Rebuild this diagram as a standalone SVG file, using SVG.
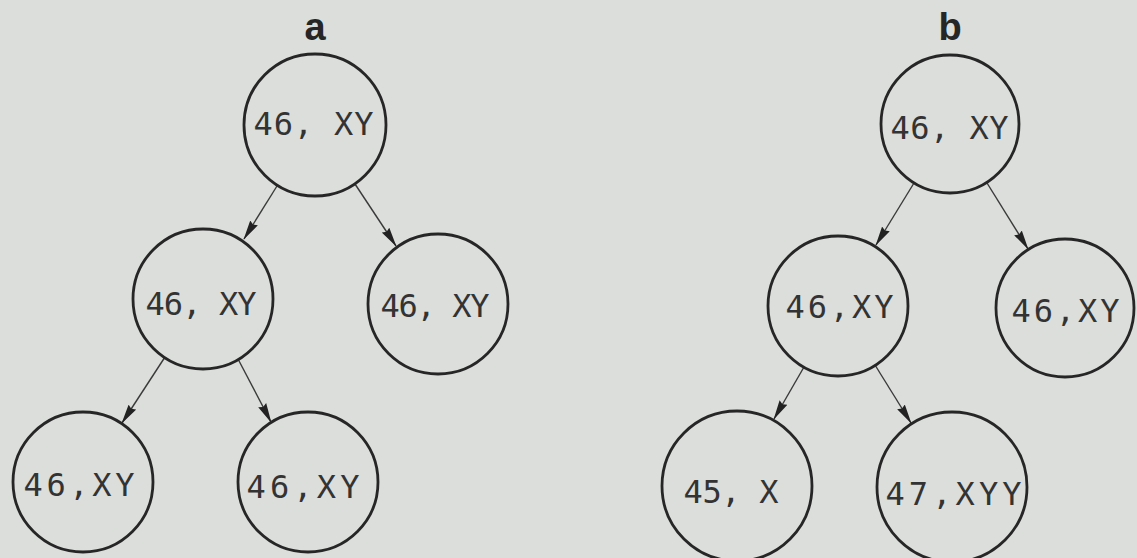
<svg xmlns="http://www.w3.org/2000/svg" width="1137" height="558" viewBox="0 0 1137 558">
  <defs>
    <marker id="arrowhead" markerUnits="userSpaceOnUse" viewBox="0 0 20 10" refX="19" refY="5" markerWidth="20" markerHeight="10" orient="auto">
      <path d="M0,0.5 L20,5 L0,9.5 L2,5 Z" fill="#222"/>
    </marker>
    <style>
      .cell { fill: none; stroke: #262626; stroke-width: 2.8; }
      .karyo { font-family: "DejaVu Sans Mono", "Liberation Mono", monospace; font-size: 32px; fill: #333; text-anchor: middle; }
      .panel { font-family: "Liberation Sans", Arial, sans-serif; font-size: 38px; font-weight: bold; fill: #262626; text-anchor: middle; }
      .edge { stroke: #3a3a3a; stroke-width: 1.4; fill: none; marker-end: url(#arrowhead); }
    </style>
  </defs>

  <rect x="0" y="0" width="1137" height="558" fill="#dbdedb"/>

  <!-- panel letters -->
  <text class="panel" x="315" y="40">a</text>
  <text class="panel" x="950" y="40">b</text>

  <!-- lineage connectors -->
  <g id="connectors">
    <line class="edge" x1="277" y1="186" x2="244" y2="239"/>
    <line class="edge" x1="355" y1="184" x2="396" y2="246"/>
    <line class="edge" x1="165" y1="357" x2="122" y2="423"/>
    <line class="edge" x1="238" y1="359" x2="271" y2="422"/>

    <line class="edge" x1="914" y1="183" x2="876" y2="245"/>
    <line class="edge" x1="987" y1="183" x2="1028" y2="249"/>
    <line class="edge" x1="804" y1="367" x2="774" y2="419"/>
    <line class="edge" x1="875" y1="365" x2="911" y2="423"/>
  </g>

  <!-- series a -->
  <g id="a-root">
    <circle class="cell" cx="315" cy="125" r="71"/>
    <text class="karyo" x="313.5" y="135" textLength="120" lengthAdjust="spacing">46, XY</text>
  </g>
  <g id="a-mid-left">
    <circle class="cell" cx="203" cy="299" r="70"/>
    <text class="karyo" x="201" y="315" textLength="111" lengthAdjust="spacing">46, XY</text>
  </g>
  <g id="a-mid-right">
    <circle class="cell" cx="438" cy="304" r="70"/>
    <text class="karyo" x="435" y="317" textLength="109" lengthAdjust="spacing">46, XY</text>
  </g>
  <g id="a-low-left">
    <circle class="cell" cx="83" cy="482" r="70"/>
    <text class="karyo" x="79" y="496" textLength="111" lengthAdjust="spacing">46,XY</text>
  </g>
  <g id="a-low-right">
    <circle class="cell" cx="308" cy="482" r="70"/>
    <text class="karyo" x="303" y="498" textLength="113" lengthAdjust="spacing">46,XY</text>
  </g>

  <!-- series b -->
  <g id="b-root">
    <circle class="cell" cx="950" cy="124" r="69"/>
    <text class="karyo" x="949.5" y="139" textLength="118" lengthAdjust="spacing">46, XY</text>
  </g>
  <g id="b-mid-left">
    <circle class="cell" cx="838" cy="306" r="70"/>
    <text class="karyo" x="839.5" y="318" textLength="108" lengthAdjust="spacing">46,XY</text>
  </g>
  <g id="b-mid-right">
    <circle class="cell" cx="1065" cy="308" r="69"/>
    <text class="karyo" x="1065.5" y="322" textLength="108" lengthAdjust="spacing">46,XY</text>
  </g>
  <g id="b-low-left">
    <circle class="cell" cx="737" cy="486" r="75"/>
    <text class="karyo" x="731" y="503" textLength="95" lengthAdjust="spacing">45, X</text>
  </g>
  <g id="b-low-right">
    <circle class="cell" cx="952" cy="487" r="75"/>
    <text class="karyo" x="953.5" y="505" textLength="136" lengthAdjust="spacing">47,XYY</text>
  </g>
</svg>
